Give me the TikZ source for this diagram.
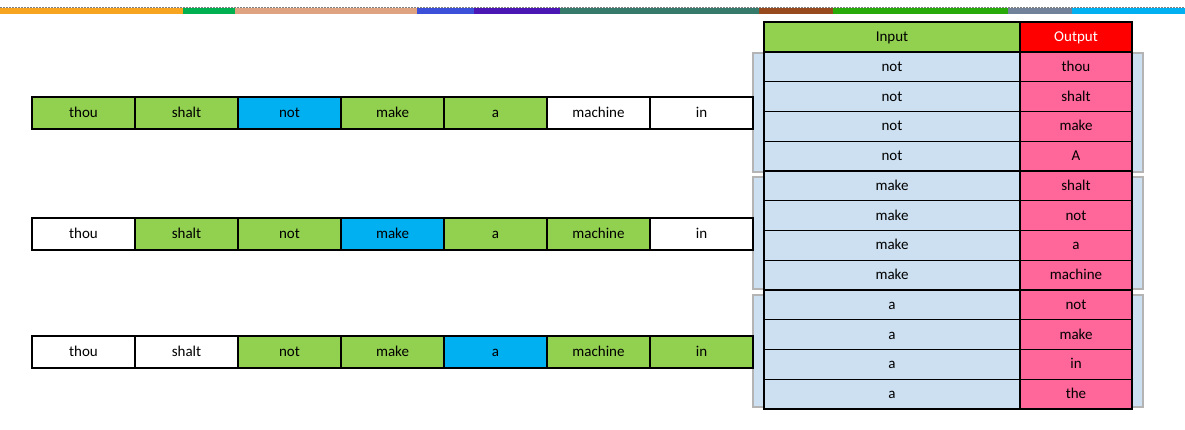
\documentclass[tikz,border=0pt]{standalone}
\usepackage{fontspec}
\setmainfont{Carlito}
\definecolor{cgreen}{HTML}{92D050}
\definecolor{cblue}{HTML}{00B0F0}
\definecolor{lblue}{HTML}{CCE0F1}
\definecolor{cpink}{HTML}{FF6699}
\definecolor{cred}{HTML}{FF0000}
\definecolor{gbord}{HTML}{B4B4B4}
\definecolor{b1}{HTML}{F7A520}
\definecolor{b2}{HTML}{00B050}
\definecolor{b3}{HTML}{E0A382}
\definecolor{b4}{HTML}{3B4FD8}
\definecolor{b5}{HTML}{4B17B4}
\definecolor{b6}{HTML}{357A6B}
\definecolor{b7}{HTML}{974A1D}
\definecolor{b8}{HTML}{28AA0A}
\definecolor{b9}{HTML}{71819A}
\definecolor{b10}{HTML}{00B0F0}
\tikzset{
  txt/.style={font=\fontsize{15}{17}\selectfont, text height=10pt, text depth=1pt},
  seqcell/.style={txt, draw=black, line width=1.4pt, inner sep=0pt, minimum width=103pt, minimum height=32pt},
  incell/.style={txt, draw=black, line width=1.3pt, inner sep=0pt, fill=lblue, minimum width=256pt, minimum height=29.75pt},
  outcell/.style={txt, draw=black, line width=1.3pt, inner sep=0pt, fill=cpink, minimum width=112pt, minimum height=29.75pt},
  groupbox/.style={draw=gbord, line width=2pt, fill=lblue},
}
\begin{document}
\begin{tikzpicture}[x=1pt,y=-1pt]
\useasboundingbox (0,0) rectangle (1185,430);
% top colour bar
\draw[gray, line width=1pt, dash pattern=on 1.5pt off 1.5pt] (0,7.5) -- (1185,7.5);
\foreach \a/\b/\c in {0/183/b1,183/235/b2,235/417/b3,417/474/b4,474/560/b5,560/759/b6,759/833/b7,833/1008/b8,1008/1072/b9,1072/1185/b10}
  \fill[\c] (\a,8) rectangle (\b,14);
% group boxes
\draw[groupbox] (753,53) rectangle (1143,172);
\draw[groupbox] (753,177) rectangle (1143,289);
\draw[groupbox] (753,295) rectangle (1143,407);
% table header
\node[incell, fill=cgreen, minimum height=30pt] (hin) at (892,37) {Input};
\node[outcell, fill=cred, minimum height=30pt, text=white] (hout) at (1076,37) {Output};
% table rows
\foreach \i/\inp/\outp in {1/not/thou,2/not/shalt,3/not/make,4/not/A,5/make/shalt,6/make/not,7/make/a,8/make/machine,9/a/not,10/a/make,11/a/in,12/a/the}{
  \node[incell] (in\i) at (892,{52+29.75*(\i-0.5)}) {\inp};
  \node[outcell] (out\i) at (1076,{52+29.75*(\i-0.5)}) {\outp};
}
% sequences
\foreach \r/\y in {1/113,2/234,3/352}{
  \foreach \j in {1,...,7}{
    \coordinate (p\r\j) at ({32+103*(\j-0.5)},\y);
  }
}
\node[seqcell, fill=cgreen] (s11) at (p11) {thou};
\node[seqcell, fill=cgreen] (s12) at (p12) {shalt};
\node[seqcell, fill=cblue]  (s13) at (p13) {not};
\node[seqcell, fill=cgreen] (s14) at (p14) {make};
\node[seqcell, fill=cgreen] (s15) at (p15) {a};
\node[seqcell, fill=white]  (s16) at (p16) {machine};
\node[seqcell, fill=white]  (s17) at (p17) {in};
\node[seqcell, fill=white]  (s21) at (p21) {thou};
\node[seqcell, fill=cgreen] (s22) at (p22) {shalt};
\node[seqcell, fill=cgreen] (s23) at (p23) {not};
\node[seqcell, fill=cblue]  (s24) at (p24) {make};
\node[seqcell, fill=cgreen] (s25) at (p25) {a};
\node[seqcell, fill=cgreen] (s26) at (p26) {machine};
\node[seqcell, fill=white]  (s27) at (p27) {in};
\node[seqcell, fill=white]  (s31) at (p31) {thou};
\node[seqcell, fill=white]  (s32) at (p32) {shalt};
\node[seqcell, fill=cgreen] (s33) at (p33) {not};
\node[seqcell, fill=cgreen] (s34) at (p34) {make};
\node[seqcell, fill=cblue]  (s35) at (p35) {a};
\node[seqcell, fill=cgreen] (s36) at (p36) {machine};
\node[seqcell, fill=cgreen] (s37) at (p37) {in};
\end{tikzpicture}
\end{document}
